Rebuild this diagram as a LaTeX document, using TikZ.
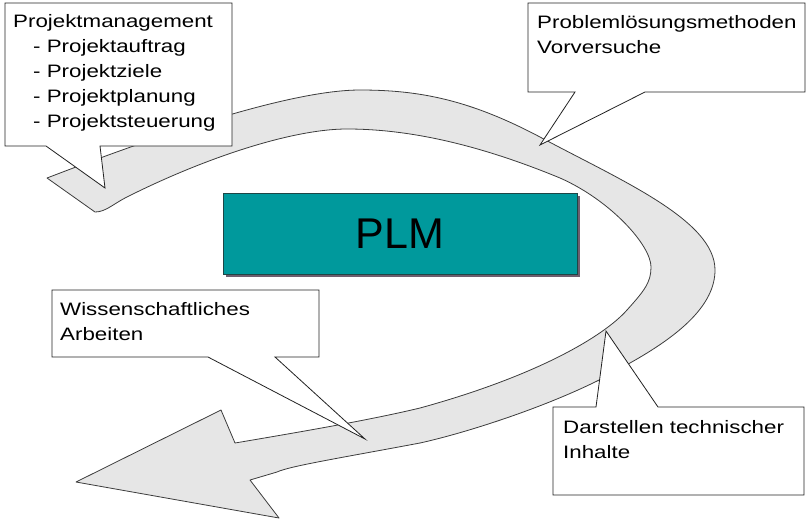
\documentclass[tikz,border=0pt]{standalone}
\usepackage{fontspec}
\setmainfont{Liberation Sans}
\newfontfamily\bubblefont[FakeStretch=1.24]{Liberation Sans}
\usetikzlibrary{shadows}
\definecolor{bandfill}{HTML}{E6E6E6}
\definecolor{bandedge}{HTML}{3C3C3C}
\definecolor{plmfill}{HTML}{00999C}
\definecolor{plmedge}{HTML}{1E4646}
\definecolor{plmshadow}{HTML}{6E5E6E}
\definecolor{bubbleedge}{HTML}{222222}

\begin{document}
\begin{tikzpicture}[
  x=1pt, y=-1pt,
  every node/.style={inner sep=0pt},
  band/.style={fill=bandfill, draw=bandedge, line width=0.8pt, line join=round},
  bubble/.style={fill=white, draw=bubbleedge, line width=0.8pt, line join=miter},
  bubbletext/.style={anchor=north west, align=left,
    font=\bubblefont\fontsize{18}{25}\selectfont},
  plmbox/.style={fill=plmfill, draw=plmedge, line width=0.8pt,
    minimum width=354pt, minimum height=81pt,
    drop shadow={shadow xshift=3pt, shadow yshift=-3pt, fill=plmshadow, opacity=1},
    font=\fontsize{43}{43}\selectfont}
]
\useasboundingbox (0,0) rectangle (810,520);

% Curved grey band, tail upper left, head lower left
\draw[band] (47,178)
  .. controls (120,150) and (280,90) .. (360,90)
  .. controls (420,90) and (470,100) .. (540,137)
  .. controls (620,180) and (715,220) .. (715,270)
  .. controls (715,305) and (680,335) .. (630,363)
  .. controls (570,400) and (470,432) .. (420,443)
  .. controls (340,458) and (290,466) .. (277,472)
  -- (250,480) -- (279,518) -- (76,482) -- (221,410) -- (235,443)
  .. controls (300,432) and (370,420) .. (420,408)
  .. controls (540,375) and (605,335) .. (627,310)
  .. controls (645,290) and (651,282) .. (651,267)
  .. controls (651,245) and (610,200) .. (560,178)
  .. controls (480,145) and (410,129) .. (347,129)
  .. controls (290,129) and (200,160) .. (125,198)
  .. controls (112,205) and (105,212) .. (95,212)
  -- cycle;

% Centre box
\node[plmbox] (plm) at (400,233.5) {PLM};

% Callout tips on the band
\coordinate (pmtip)   at (105,188);
\coordinate (probtip) at (540,145);
\coordinate (wisstip) at (365,439);
\coordinate (darstip) at (606,331);

% Callout 1: Projektmanagement
\draw[bubble] (5,3) -- (232,3) -- (232,146) -- (100,146) -- (pmtip)
  -- (46,146) -- (5,146) -- cycle;
\node[bubbletext] (pm) at (13,14) {Projektmanagement\\
  \hspace*{20pt}- Projektauftrag\\
  \hspace*{20pt}- Projektziele\\
  \hspace*{20pt}- Projektplanung\\
  \hspace*{20pt}- Projektsteuerung};

% Callout 2: Problemloesung
\draw[bubble] (528,3) -- (805,3) -- (805,92) -- (645,92) -- (probtip)
  -- (575,92) -- (528,92) -- cycle;
\node[bubbletext] (prob) at (537,15) {Probleml\"osungsmethoden\\Vorversuche};

% Callout 3: Wissenschaftliches Arbeiten
\draw[bubble] (52,290) -- (319,290) -- (319,357) -- (275,357) -- (wisstip)
  -- (208,357) -- (52,357) -- cycle;
\node[bubbletext] (wiss) at (60,302) {Wissenschaftliches\\Arbeiten};

% Callout 4: Darstellen technischer Inhalte
\draw[bubble] (553,407) -- (596,407) -- (darstip) -- (658,407)
  -- (804,407) -- (804,495) -- (553,495) -- cycle;
\node[bubbletext] (dars) at (563,420) {Darstellen technischer\\Inhalte};

\end{tikzpicture}
\end{document}
